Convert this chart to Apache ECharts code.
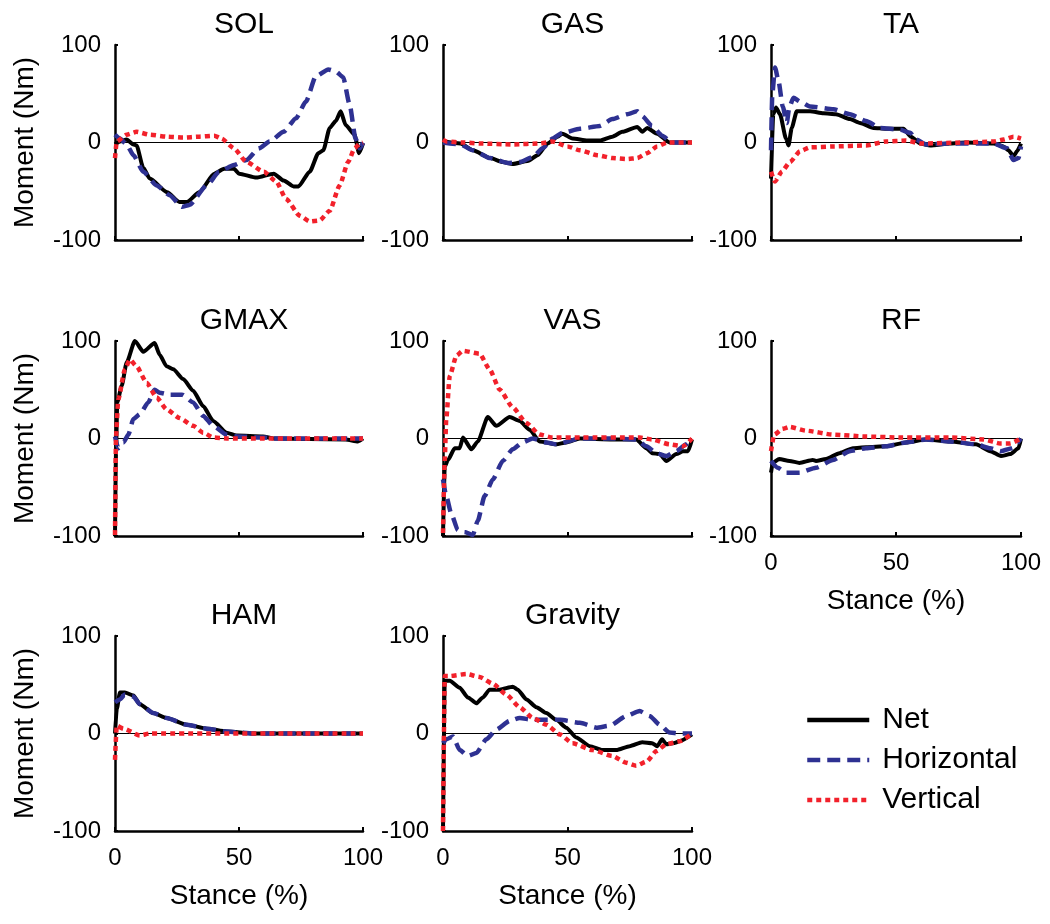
<!DOCTYPE html>
<html>
<head>
<meta charset="utf-8">
<script src="https://cdn.jsdelivr.net/npm/echarts@6/dist/echarts.min.js"></script>
<style>
  html, body { margin: 0; padding: 0; background: #fff; }
  #chart { width: 1050px; height: 924px; }
</style>
</head>
<body>
<div id="chart"></div>
<script>
// panel names and tick values
var panelNames = ['SOL', 'GAS', 'TA', 'GMAX', 'VAS', 'RF', 'HAM', 'Gravity'];
var seriesNames = ['Net', 'Horizontal', 'Vertical'];
var yTicks = [-100, 0, 100];
var xTicks = [0, 50, 100];

// [stance %, moment Nm]
var solNet = [[0,-2],[2,1],[4.7,3],[7.4,-2],[8.7,-3],[11.4,-26],[14,-37],[21,-51],[26,-61],[29,-61],[34,-51],[40,-32],[44,-27],[48,-27],[50,-32],[57,-36],[64,-32],[68,-39],[72,-45],[74,-45],[78.5,-30],[82,-11],[84,-8],[86.6,15],[89,22],[91,32],[93,18],[96.6,8],[98.4,-11],[100,-1]];
var solHor = [[0,8],[2,4],[4.7,-2],[7.4,-13],[11.4,-30],[16.8,-44],[22,-54],[27,-66],[30,-64],[37,-44],[42,-30],[48,-23],[53,-18],[58,-6],[62.4,1],[68,11],[73,25],[77,42],[81,68],[86,75],[89,73],[92,67],[94.6,39],[97,4],[98.7,-6],[100,0]];
var solVer = [[0,-16],[0.7,1],[4.7,8],[8.7,11],[14,8],[21,6],[27.5,5],[34,6],[40,7],[43,4],[48,-6],[53,-20],[60,-30],[65,-40],[69,-58],[74.5,-75],[78.5,-81],[82.5,-80],[86.6,-70],[90.6,-44],[94,-20],[96.6,-6],[98.7,-1],[100,0]];

var gasNet = [[0,1],[7,-1],[12,-8],[19,-16],[24,-20],[28,-22],[34,-19],[38,-13],[42,-1],[46,6],[48,9],[52,4],[58,2],[63,2],[68,6],[72,11],[78,16],[80,11],[82,15],[86,9],[91,0],[100,0]];
var gasHor = [[0,0],[7,-2],[12,-8],[19,-16],[26,-21],[31,-20],[36,-15],[40,-6],[44,4],[48,10],[55,14],[63,17],[68,24],[74,29],[78,32],[80,27],[84,17],[88,7],[92,0],[100,0]];
var gasVer = [[0,3],[1.5,1],[8,0],[15,-1],[28,-2],[39,-1],[44,1],[50,-4],[55,-8],[62,-13],[68,-16],[74,-17],[78,-16],[82,-11],[86,-4],[90,0],[100,0]];

var taNet = [[0,-37],[0.9,29],[2,36],[3.6,29],[6,4],[7,-3],[8.3,15],[10.3,32],[15.6,32],[21,30],[26,29],[31.6,24],[35.6,20],[41,15],[46,14],[53,14],[56,6],[59.7,-1],[63.7,-3],[71.7,-1],[78,0],[89,-1],[93,-4],[95,-8],[97,-14],[98.4,-9],[100,-1]];
var taHor = [[0,-8],[0.5,49],[1.6,77],[3,63],[4.7,37],[6.3,20],[7.3,36],[9,46],[11.6,42],[15.6,37],[25,34],[31.6,29],[38,22],[43.7,15],[51.7,13],[55.7,10],[58,3],[62,-2],[72,-1],[89,-1],[94.4,-6],[97,-18],[99,-16],[100,-4]];
var taVer = [[0,-30],[1.6,-40],[4.3,-30],[7.6,-20],[11.6,-9],[15.6,-5],[25,-4],[38,-3],[46,1],[54,2],[60,-1],[78,0],[89,1],[93,3],[97,6],[100,4]];

var gmaxNet = [[0,-100],[0.4,-15],[0.9,37],[2.7,54],[4.7,78],[8,100],[11.4,89],[16,98],[18,86],[20.8,74],[23.5,71],[27.5,61],[31.5,49],[35.6,33],[39.6,18],[45,6],[49,3],[59.7,2],[64,0],[93,-1],[98,-3],[100,0]];
var gmaxHor = [[0,2],[1.3,-10],[3.4,-4],[5.4,4],[7.4,20],[10,25],[13.4,37],[16,50],[18,47],[22,45],[27,45],[31.5,37],[35.6,23],[39.6,13],[45,4],[50,2],[60,1],[64,0],[100,0]];
var gmaxVer = [[0,-99],[0.4,2],[1.3,40],[4,71],[6,81],[8.7,74],[12.8,57],[16.8,42],[20.8,30],[26,21],[31.5,13],[35.6,6],[39.6,1],[45,0],[100,0]];

var vasNet = [[0,-100],[0.7,-29],[2,-22],[4.7,-10],[6.7,-10],[8,1],[11.4,-11],[14,-3],[18,22],[21.4,13],[26.8,22],[30.8,18],[34.8,9],[38.8,-3],[45.5,-6],[49.5,-4],[55,0],[68,-1],[77.6,-1],[81.7,-10],[84,-15],[87,-16],[89.7,-23],[93.7,-16],[96.4,-13],[98.4,-13],[100,-1]];
var vasHor = [[0,-42],[1.3,-59],[3.3,-77],[6,-94],[8.7,-96],[12,-99],[14,-84],[16.7,-59],[20,-42],[24,-23],[28,-11],[32,-4],[36,0],[41.5,-4],[45.5,-6],[55,0],[68,0],[77.6,-1],[81.7,-8],[85.7,-15],[89.7,-18],[93.7,-13],[97.7,-6],[100,0]];
var vasVer = [[0,-97],[0.7,-22],[1.3,20],[2.7,64],[5.4,85],[8,90],[14.7,87],[18.7,71],[22.8,50],[28,32],[33.5,16],[38.8,4],[44,1],[55,1],[79,1],[84,-1],[91,-6],[96.4,-8],[100,0]];

var rfNet = [[0,-35],[0.7,-25],[3.3,-21],[7.4,-23],[11.4,-25],[16.7,-22],[18,-23],[22,-21],[27.4,-15],[32.8,-10],[38,-9],[46,-8],[54,-4],[62,-1],[71.6,-3],[82,-6],[87.7,-13],[92,-18],[95.7,-16],[99,-10],[100,0]];
var rfHor = [[0,-23],[2.7,-30],[6,-35],[11.4,-35],[18,-30],[24.8,-22],[31.5,-13],[38,-10],[46,-8],[54,-4],[62,-1],[71.6,-3],[82,-6],[87.7,-10],[92,-13],[96.4,-10],[100,0]];
var rfVer = [[0,-13],[1.3,4],[4.7,10],[7.4,12],[14,8],[24.8,4],[38,2],[52,1],[72,1],[85,-1],[91.7,-5],[95.7,-5],[100,0]];

var hamNet = [[0,0],[0.7,25],[2,42],[4,42],[7.4,39],[10,30],[15.4,21],[20.8,16],[29,9],[37,5],[45,2],[55.7,0],[100,0]];
var hamHor = [[0,32],[2,35],[4,40],[7.4,38],[10,30],[15.4,21],[20.8,16],[29,9],[37,5],[45,2],[55.7,0],[100,0]];
var hamVer = [[0,-27],[0.7,8],[3.4,5],[10,-2],[14,0],[100,0]];

var gravNet = [[0,-100],[0.7,54],[2.7,54],[6.7,47],[10,37],[13.4,31],[16,37],[18.7,45],[22.8,45],[28,48],[30,45],[33.5,35],[37.5,27],[41.5,21],[45.5,14],[49.5,6],[53.5,-4],[59,-13],[64,-17],[69.6,-17],[75,-13],[80,-9],[84,-10],[86,-13],[88,-6],[89.7,-11],[92.4,-10],[95,-8],[100,-1]];
var gravHor = [[0,-10],[1.3,-6],[4,-3],[6.7,-17],[10,-23],[13.4,-20],[17.4,-6],[21.4,4],[26.8,13],[30.8,16],[36,14],[41.5,14],[47,14],[55,11],[61.6,6],[67,8],[73.6,18],[79,23],[83,18],[87,9],[91,1],[95,0],[100,0]];
var gravVer = [[0,-100],[0.7,59],[2.7,59],[9.4,61],[14.7,58],[20,51],[25.4,40],[30.8,27],[36,16],[41.5,9],[47,-1],[52,-10],[60,-17],[68,-23],[73.6,-30],[77.6,-33],[81.7,-29],[85.7,-18],[89.7,-11],[95,-8],[100,0]];

var panelData = [
  [solNet, solHor, solVer], [gasNet, gasHor, gasVer], [taNet, taHor, taVer],
  [gmaxNet, gmaxHor, gmaxVer], [vasNet, vasHor, vasVer], [rfNet, rfHor, rfVer],
  [hamNet, hamHor, hamVer], [gravNet, gravHor, gravVer]
];

var font = 'Liberation Sans, Arial, sans-serif';
var colLeft = [115, 443, 771];
var colWidth = [248, 249, 250];
var rowTop = [45, 341, 636];
var plotHeight = 195;
var titleTop = [5, 301, 596];
var lineStyles = [
  {color: '#000000', width: 4, type: 'solid'},
  {color: '#2E3192', width: 4.5, type: [13, 7]},
  {color: '#F2212B', width: 4.5, type: [5, 4]}
];
var withXLabels = [5, 6, 7];

var grids = [], xAxes = [], yAxes = [], titles = [], series = [];

panelNames.forEach(function (name, i) {
    var row = Math.floor(i / 3), col = i % 3;
    grids.push({left: colLeft[col], top: rowTop[row], width: colWidth[col], height: plotHeight});
    titles.push({
        text: name, left: colLeft[col] + colWidth[col] / 2, top: titleTop[row], textAlign: 'center',
        textStyle: {fontFamily: font, fontSize: 30, fontWeight: 'normal', color: '#000'}
    });
    var showX = withXLabels.indexOf(i) >= 0;
    xAxes.push({
        type: 'value', gridIndex: i, min: xTicks[0], max: xTicks[2], interval: 50,
        axisLine: {onZero: false, lineStyle: {color: '#000', width: 2.5}},
        axisTick: {inside: true, length: 4, lineStyle: {color: '#000', width: 2}},
        axisLabel: {show: showX, fontFamily: font, fontSize: 24, color: '#000', margin: 15},
        splitLine: {show: false},
        name: showX ? 'Stance (%)' : '', nameLocation: 'middle', nameGap: 51,
        nameTextStyle: {fontFamily: font, fontSize: 28, color: '#000'}
    });
    yAxes.push({
        type: 'value', gridIndex: i, min: yTicks[0], max: yTicks[2], interval: 100,
        axisLine: {lineStyle: {color: '#000', width: 2.5}},
        axisTick: {inside: true, length: 3, lineStyle: {color: '#000', width: 2}},
        axisLabel: {fontFamily: font, fontSize: 24, color: '#000', margin: 14},
        splitLine: {show: false},
        name: col === 0 ? 'Moment (Nm)' : '', nameLocation: 'middle', nameGap: 76,
        nameTextStyle: {fontFamily: font, fontSize: 28, color: '#000'}
    });
    // zero reference line
    series.push({
        type: 'line', xAxisIndex: i, yAxisIndex: i, data: [[0, 0], [100, 0]],
        symbol: 'none', silent: true, lineStyle: {color: '#000', width: 1}
    });
    panelData[i].forEach(function (d, k) {
        series.push({
            name: seriesNames[k], type: 'line', xAxisIndex: i, yAxisIndex: i, data: d,
            symbol: 'none', smooth: 0.2, smoothMonotone: 'x',
            lineStyle: lineStyles[k], itemStyle: {color: lineStyles[k].color}
        });
    });
});

var chart = echarts.init(document.getElementById('chart'), null, {renderer: 'canvas'});
chart.setOption({
    animation: false,
    backgroundColor: '#fff',
    title: titles,
    grid: grids,
    xAxis: xAxes,
    yAxis: yAxes,
    legend: {
        data: seriesNames, orient: 'vertical', left: 800, top: 700,
        itemWidth: 62, itemHeight: 12, itemGap: 10,
        itemStyle: {opacity: 0},
        lineStyle: {width: 4.5},
        textStyle: {fontFamily: font, fontSize: 30, color: '#000', padding: [0, 0, 0, 8]}
    },
    series: series
});
</script>
</body>
</html>
